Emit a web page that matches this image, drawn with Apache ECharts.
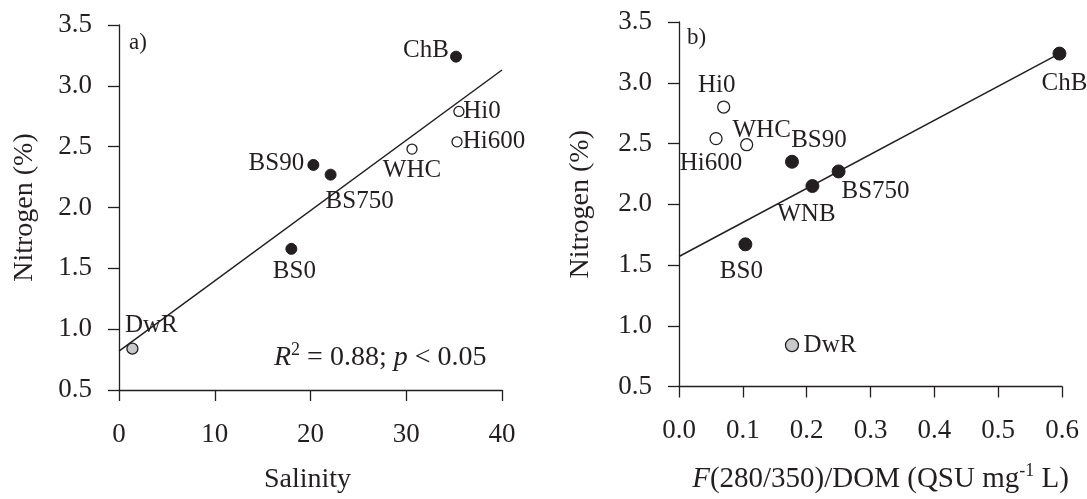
<!DOCTYPE html>
<html>
<head>
<meta charset="utf-8">
<script src="https://cdn.jsdelivr.net/npm/echarts@6/dist/echarts.min.js"></script>
<style>
html,body{margin:0;padding:0;background:#ffffff;}
#chart{width:1087px;height:499px;}
</style>
</head>
<body>
<div id="chart"></div>
<script>
// Panel a): nitrogen content against salinity
const sitesA     = ['ChB', 'Hi0', 'Hi600', 'WHC', 'BS90', 'BS750', 'BS0', 'DwR'];
const salinity   = [35.2, 35.5, 35.3, 30.6, 20.3, 22.1, 18.0, 1.4];
const nitrogenA  = [3.24, 2.79, 2.54, 2.48, 2.35, 2.27, 1.66, 0.84];
const kindA      = ['filled', 'open', 'open', 'open', 'filled', 'filled', 'filled', 'grey'];
const fitAx      = [0, 40];
const fitAy      = [0.82, 3.13];

// Panel b): nitrogen content against F(280/350)/DOM
const sitesB     = ['ChB', 'Hi0', 'Hi600', 'WHC', 'BS90', 'WNB', 'BS750', 'BS0', 'DwR'];
const fluorDom   = [0.596, 0.070, 0.058, 0.106, 0.177, 0.209, 0.250, 0.104, 0.177];
const nitrogenB  = [3.24, 2.80, 2.54, 2.49, 2.35, 2.15, 2.27, 1.67, 0.84];
const kindB      = ['filled', 'open', 'open', 'open', 'filled', 'filled', 'filled', 'filled', 'grey'];
const fitBx      = [0, 0.596];
const fitBy      = [1.57, 3.24];

// Tick values
const nitrogenTicks = [0.5, 1.0, 1.5, 2.0, 2.5, 3.0, 3.5];
const salinityTicks = [0, 10, 20, 30, 40];
const fluorTicks    = [0.0, 0.1, 0.2, 0.3, 0.4, 0.5, 0.6];

// Label placement (text centre relative to the marker, px)
const labelShiftA = {
  ChB: [-30, -6], Hi0: [23, 0], Hi600: [37, 0], WHC: [0, 21],
  BS90: [-37, -1], BS750: [29, 27], BS0: [3, 23], DwR: [19, -23]
};
const labelShiftB = {
  ChB: [5, 30], Hi0: [-7, -22], Hi600: [-5, 25], WHC: [15, -14],
  BS90: [27, -21], WNB: [-6, 28], BS750: [37, 20], BS0: [-4, 27], DwR: [38, 0]
};

const ink = '#231f20';
const serif = 'Liberation Serif, Times New Roman, serif';

function markerStyle(kind) {
  if (kind === 'filled') return { color: ink, borderColor: ink, borderWidth: 1, opacity: 1 };
  if (kind === 'open') return { color: '#ffffff', borderColor: ink, borderWidth: 1.3, opacity: 1 };
  return { color: '#c8c9ca', borderColor: ink, borderWidth: 1.3, opacity: 1 };
}

function points(names, xs, ys, kinds, shifts, sizes) {
  return names.map((n, i) => ({
    name: n,
    value: [xs[i], ys[i]],
    symbolSize: sizes[kinds[i]],
    itemStyle: markerStyle(kinds[i]),
    label: {
      show: true,
      formatter: n,
      position: 'inside',
      offset: shifts[n],
      align: 'center',
      verticalAlign: 'middle',
      fontFamily: serif,
      fontSize: 25,
      color: ink,
      opacity: 1
    }
  }));
}

function valueAxis(grid, ticks, decimals, extra) {
  return Object.assign({
    gridIndex: grid,
    type: 'value',
    min: ticks[0],
    max: ticks[ticks.length - 1],
    interval: +(ticks[1] - ticks[0]).toFixed(6),
    axisLine: { show: true, onZero: false, lineStyle: { color: ink, width: 1.3 } },
    axisTick: { show: true, length: 11, lineStyle: { color: ink, width: 1.3 } },
    splitLine: { show: false },
    axisLabel: {
      fontFamily: serif, fontSize: 27, color: ink,
      formatter: v => v.toFixed(decimals)
    },
    nameTextStyle: { fontFamily: serif, fontSize: 28, color: ink },
    nameLocation: 'middle'
  }, extra);
}

const tickFont = { fontFamily: serif, fontSize: 27, color: ink };

const chart = echarts.init(document.getElementById('chart'));

const option = {
  backgroundColor: '#ffffff',
  animation: false,
  grid: [
    { left: 119, top: 25, width: 383, height: 371 },
    { left: 679, top: 22, width: 383, height: 370 }
  ],
  xAxis: [
    valueAxis(0, salinityTicks, 0, {
      name: 'Salinity', nameGap: 76,
      nameTextStyle: { fontFamily: serif, fontSize: 28, color: ink, padding: [0, 6, 0, 0] },
      axisLabel: Object.assign({ margin: 31, formatter: v => v.toFixed(0) }, tickFont)
    }),
    valueAxis(1, fluorTicks, 1, {
      name: '{i|F}(280/350)/DOM (QSU mg{sup|-1} L)', nameGap: 76,
      axisLabel: Object.assign({ margin: 31, formatter: v => v.toFixed(1) }, tickFont),
      nameTextStyle: {
        fontFamily: serif, fontSize: 29, color: ink, padding: [0, 0, 0, 20],
        rich: {
          i: { fontFamily: serif, fontSize: 29, fontStyle: 'italic', color: ink },
          sup: { fontFamily: serif, fontSize: 18, color: ink, padding: [0, 0, 16, 0] }
        }
      }
    })
  ],
  yAxis: [
    valueAxis(0, nitrogenTicks, 1, {
      name: 'Nitrogen (%)', nameGap: 80,
      axisLabel: Object.assign({ margin: 27, formatter: v => v.toFixed(1) }, tickFont)
    }),
    valueAxis(1, nitrogenTicks, 1, {
      name: 'Nitrogen (%)', nameGap: 84,
      axisLabel: Object.assign({ margin: 27, formatter: v => v.toFixed(1) }, tickFont)
    })
  ],
  series: [
    {
      type: 'line', xAxisIndex: 0, yAxisIndex: 0, silent: true,
      showSymbol: false, symbol: 'none',
      lineStyle: { color: ink, width: 1.5 },
      data: fitAx.map((x, i) => [x, fitAy[i]]), z: 1
    },
    {
      type: 'scatter', xAxisIndex: 0, yAxisIndex: 0, z: 3,
      data: points(sitesA, salinity, nitrogenA, kindA, labelShiftA, { filled: 11, open: 10, grey: 11 })
    },
    {
      type: 'line', xAxisIndex: 1, yAxisIndex: 1, silent: true,
      showSymbol: false, symbol: 'none',
      lineStyle: { color: ink, width: 1.5 },
      data: fitBx.map((x, i) => [x, fitBy[i]]), z: 1
    },
    {
      type: 'scatter', xAxisIndex: 1, yAxisIndex: 1, z: 3,
      data: points(sitesB, fluorDom, nitrogenB, kindB, labelShiftB, { filled: 13, open: 12, grey: 13 })
    }
  ],
  graphic: [
    { type: 'text', x: 129, y: 43, style: { text: 'a)', font: '23px ' + serif, fill: ink, verticalAlign: 'middle' } },
    { type: 'text', x: 687, y: 38, style: { text: 'b)', font: '23px ' + serif, fill: ink, verticalAlign: 'middle' } },
    {
      type: 'text', x: 274, y: 358,
      style: {
        text: '{i|R}{sup|2} = 0.88; {i|p} < 0.05',
        font: '28px ' + serif, fill: ink, verticalAlign: 'middle',
        rich: {
          i: { fontFamily: serif, fontSize: 28, fontStyle: 'italic', fill: ink },
          sup: { fontFamily: serif, fontSize: 18, fill: ink, padding: [0, 0, 16, 0] }
        }
      }
    }
  ]
};

chart.setOption(option);
</script>
</body>
</html>
